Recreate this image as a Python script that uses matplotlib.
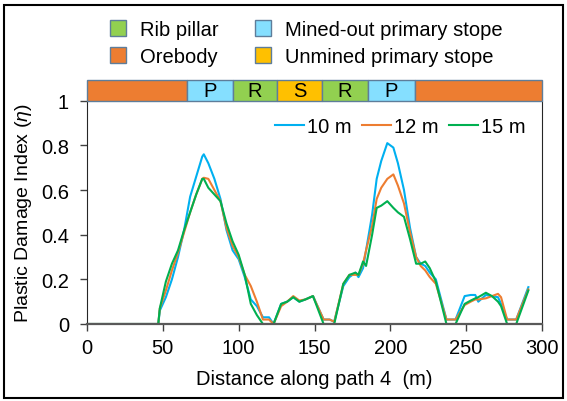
import matplotlib
matplotlib.use("Agg")
import matplotlib.pyplot as plt
from matplotlib.patches import Rectangle, Patch

plt.rcParams['font.family'] = ['Liberation Sans', 'DejaVu Sans']
plt.rcParams['mathtext.fontset'] = 'custom'
plt.rcParams['mathtext.it'] = 'Liberation Sans:italic'
plt.rcParams['mathtext.rm'] = 'Liberation Sans'

# distance along path (m)
dist = [0, 47, 48, 52, 56, 60, 64, 68, 72, 76, 77, 80, 84, 88, 92, 96, 100,
        104, 108, 112, 116, 120, 123, 128, 132, 136, 140, 144, 149, 156, 160,
        163, 169, 173, 177, 179, 182, 184, 188, 191, 194, 198, 202, 205, 209,
        213, 217, 220, 223, 226, 230, 237, 243, 249, 253, 256, 258, 263, 267,
        271, 273, 277, 283, 291]

pdi_10m = [0, 0, 0.06, 0.12, 0.20, 0.30, 0.42, 0.57, 0.66, 0.75, 0.76, 0.72,
           0.65, 0.56, 0.42, 0.33, 0.29, 0.21, 0.11, 0.08, 0.03, 0.03, 0,
           0.09, 0.10, 0.12, 0.10, 0.11, 0.125, 0.02, 0.02, 0.01, 0.17, 0.21,
           0.23, 0.21, 0.25, 0.33, 0.49, 0.65, 0.73, 0.81, 0.79, 0.72, 0.60,
           0.43, 0.30, 0.27, 0.26, 0.23, 0.20, 0.02, 0.02, 0.125, 0.13, 0.13,
           0.10, 0.13, 0.125, 0.12, 0.09, 0.02, 0.02, 0.165]

pdi_12m = [0, 0, 0.07, 0.15, 0.24, 0.32, 0.41, 0.50, 0.58, 0.65, 0.655, 0.65,
           0.60, 0.55, 0.43, 0.35, 0.30, 0.22, 0.17, 0.10, 0.02, 0.02, 0,
           0.08, 0.10, 0.125, 0.105, 0.11, 0.125, 0.02, 0.02, 0.01, 0.18, 0.22,
           0.22, 0.22, 0.27, 0.33, 0.44, 0.56, 0.61, 0.65, 0.67, 0.62, 0.54,
           0.41, 0.30, 0.26, 0.24, 0.21, 0.18, 0.02, 0.02, 0.085, 0.10, 0.11,
           0.11, 0.115, 0.125, 0.135, 0.12, 0.02, 0.02, 0.155]

pdi_15m = [0, 0, 0.07, 0.19, 0.27, 0.33, 0.42, 0.50, 0.58, 0.65, 0.65, 0.61,
           0.58, 0.55, 0.45, 0.37, 0.31, 0.22, 0.09, 0.04, 0, 0, 0,
           0.09, 0.10, 0.12, 0.10, 0.11, 0.125, 0, 0, 0, 0.18, 0.22,
           0.23, 0.22, 0.28, 0.26, 0.40, 0.52, 0.53, 0.55, 0.52, 0.50, 0.48,
           0.38, 0.27, 0.27, 0.28, 0.25, 0.19, 0, 0, 0.09, 0.105, 0.115,
           0.12, 0.14, 0.125, 0.10, 0.08, 0, 0, 0.15]

# zone strip along the path
zone_edges = [0, 66, 96, 125, 155, 185, 216, 300]
zone_labels = ['', 'P', 'R', 'S', 'R', 'P', '']
zone_kind = ['ore', 'mined', 'rib', 'unmined', 'rib', 'mined', 'ore']
zone_colors = {'ore': '#ED7D31', 'mined': '#85DFFF', 'rib': '#92D050', 'unmined': '#FFC000'}

FS = 14.5

fig = plt.figure(figsize=(5.67, 4.02), dpi=100)
ax = fig.add_axes([87 / 567, 77 / 402, 455 / 567, 223.3 / 402])

ax.plot(dist, pdi_10m, color='#00B0F0', lw=1.5, label='10 m')
ax.plot(dist, pdi_12m, color='#ED7D31', lw=1.5, label='12 m')
ax.plot(dist, pdi_15m, color='#00B050', lw=1.5, label='15 m')

ax.set_xlim(0, 300)
ax.set_ylim(0, 1)
ax.set_xticks([0, 50, 100, 150, 200, 250, 300])
ax.set_yticks([0, 0.2, 0.4, 0.6, 0.8, 1])
ax.set_yticklabels(['0', '0.2', '0.4', '0.6', '0.8', '1'])
ax.tick_params(direction='out', length=5, width=1, color='#404040', labelsize=FS)
ax.tick_params(axis='y', pad=8)
ax.tick_params(axis='x', pad=5)
ax.spines['top'].set_visible(False)
ax.spines['bottom'].set_color('#595959')
ax.spines['bottom'].set_linewidth(1.6)
ax.spines['left'].set_color('#262626')
ax.spines['right'].set_color('#262626')

ax.set_xlabel('Distance along path 4  (m)', fontsize=FS, labelpad=9)
ax.set_ylabel(r'Plastic Damage Index ($\mathit{\eta}$)', fontsize=14, labelpad=5)

# zone strip above the plot
for i in range(len(zone_kind)):
    x0, x1 = zone_edges[i], zone_edges[i + 1]
    ax.add_patch(Rectangle((x0, 1), x1 - x0, 0.094, facecolor=zone_colors[zone_kind[i]],
                           edgecolor='#5E7D9A', lw=1, clip_on=False, zorder=5))
    if zone_labels[i]:
        ax.text((x0 + x1) / 2, 1.047, zone_labels[i], ha='center', va='center',
                fontsize=FS, zorder=6, clip_on=False)

ax.legend(loc='upper right', bbox_to_anchor=(1.004, 1.006), ncol=3, frameon=False,
          fontsize=FS, handlelength=1.45, handletextpad=0.15, columnspacing=0.5)

zone_handles = [
    Patch(facecolor=zone_colors['rib'], edgecolor='#5E7D9A', label='Rib pillar'),
    Patch(facecolor=zone_colors['ore'], edgecolor='#5E7D9A', label='Orebody'),
    Patch(facecolor=zone_colors['mined'], edgecolor='#5E7D9A', label='Mined-out primary stope'),
    Patch(facecolor=zone_colors['unmined'], edgecolor='#5E7D9A', label='Unmined primary stope'),
]
fig.legend(handles=zone_handles, loc='upper left', bbox_to_anchor=(92 / 567, 1 - 3 / 402),
           ncol=2, frameon=False, fontsize=FS, handlelength=0.8, handleheight=0.8,
           handletextpad=0.7, columnspacing=1.8, labelspacing=0.4)

# border around the whole figure
fig.add_artist(Rectangle((4 / 567, 3 / 402), 559 / 567, 393 / 402, transform=fig.transFigure,
                         fill=False, edgecolor='black', lw=1.5))

fig.savefig('out.png', dpi=100)
